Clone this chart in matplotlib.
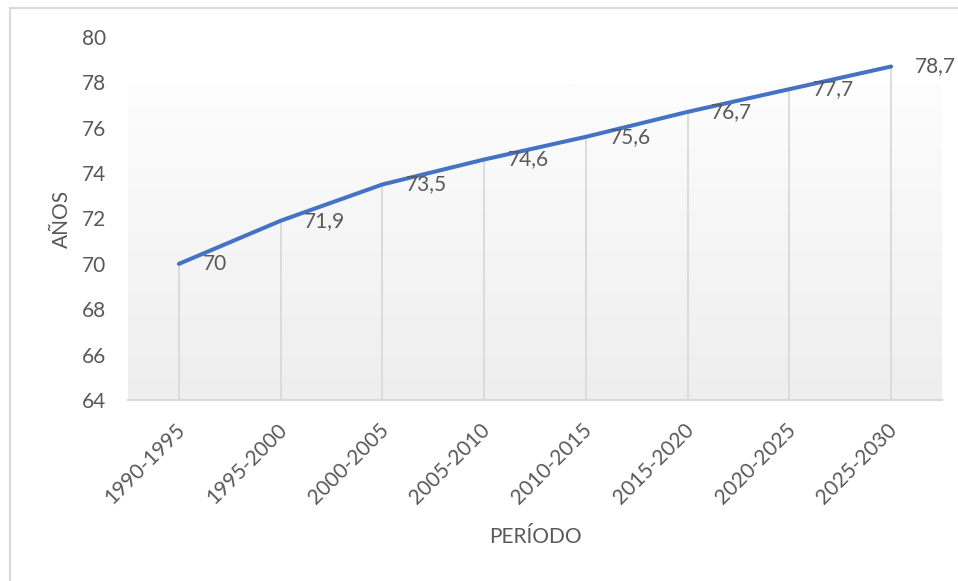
import numpy as np
import matplotlib
matplotlib.use("Agg")
import matplotlib.pyplot as plt
from matplotlib.lines import Line2D
from matplotlib.colors import LinearSegmentedColormap
from matplotlib.transforms import ScaledTranslation

periods = ["1990-1995", "1995-2000", "2000-2005", "2005-2010",
           "2010-2015", "2015-2020", "2020-2025", "2025-2030"]
life_expectancy = [70, 71.9, 73.5, 74.6, 75.6, 76.7, 77.7, 78.7]
y_ticks = [64, 66, 68, 70, 72, 74, 76, 78, 80]

TEXT = "#595959"
GRID = "#d9d9d9"
LINE = "#4472C4"
FONT = "Lato"
FS = 15

W, H = 958, 581
fig = plt.figure(figsize=(W / 100, H / 100), dpi=100)
fig.patch.set_facecolor("white")

ax = fig.add_axes([128 / W, (H - 400) / H, (942 - 128) / W, (400 - 37) / H])
ax.set_facecolor("none")
x = np.arange(len(periods))
ax.set_xlim(-0.5, len(periods) - 0.5)
ax.set_ylim(64, 80)

# soft vertical gradient behind the plot area
grad = np.linspace(0, 1, 256).reshape(-1, 1)
cmap = LinearSegmentedColormap.from_list("bg", ["#fdfdfd", "#eeeeee"])
ax.imshow(grad, cmap=cmap, aspect="auto", extent=(-0.5, len(periods) - 0.5, 64, 77.9),
          origin="upper", zorder=0, interpolation="bilinear")

# drop lines from each point down to the axis
ax.vlines(x, 64, life_expectancy, colors=GRID, linewidth=1.3, zorder=1)

ax.plot(x, life_expectancy, color=LINE, linewidth=2.9, solid_capstyle="round", zorder=3)

for xi, v in zip(x, life_expectancy):
    label = f"{v:g}".replace(".", ",")
    ax.annotate(label, (xi, v), xytext=(17, 0), textcoords="offset points",
                ha="left", va="center", fontsize=FS, color=TEXT, family=FONT, zorder=4)

for s in ["top", "right", "left"]:
    ax.spines[s].set_visible(False)
ax.spines["bottom"].set_color(GRID)
ax.spines["bottom"].set_linewidth(1.5)

ax.set_yticks(y_ticks)
ax.set_yticklabels([str(t) for t in y_ticks], fontsize=FS, color=TEXT, family=FONT)
ax.tick_params(axis="y", length=0, pad=16)

ax.set_xticks(x)
ax.set_xticklabels(periods, rotation=45, ha="right", va="top", rotation_mode="anchor",
                   fontsize=FS, color=TEXT, family=FONT)
ax.tick_params(axis="x", length=0, pad=14)
shift = ScaledTranslation(-4 / 100, 0, fig.dpi_scale_trans)
for lab in ax.get_xticklabels():
    lab.set_transform(lab.get_transform() + shift)

ax.set_ylabel("AÑOS", fontsize=FS, color=TEXT, family=FONT, va="center")
ax.yaxis.set_label_coords((62 - 128) / 814, 0.5)
ax.set_xlabel("PERÍODO", fontsize=FS, color=TEXT, family=FONT, va="center")
ax.xaxis.set_label_coords(0.5, (400 - 537) / 363)

# chart frame (left and top edges)
fig.add_artist(Line2D([9.5 / W, 9.5 / W], [0, (H - 7.5) / H], color=GRID, linewidth=1.5,
                      transform=fig.transFigure))
fig.add_artist(Line2D([9.5 / W, 1], [(H - 7.5) / H, (H - 7.5) / H], color=GRID, linewidth=1.5,
                      transform=fig.transFigure))

fig.savefig("out.png", dpi=100, facecolor="white")
